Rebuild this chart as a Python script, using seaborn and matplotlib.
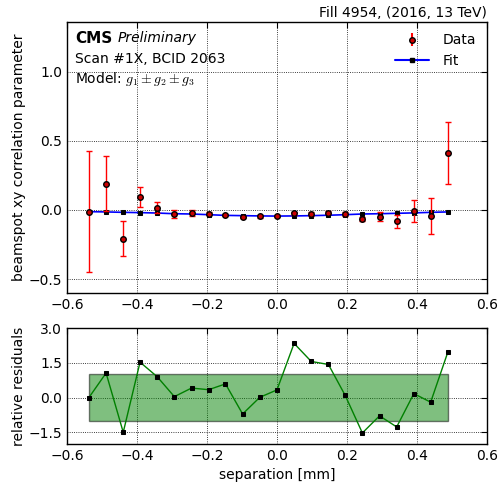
import seaborn as sns
import matplotlib.pyplot as plt
import pandas as pd
from matplotlib.lines import Line2D
from matplotlib.patches import Rectangle

# separation values of the scan points [mm]
separation = [-0.537, -0.488, -0.439, -0.391, -0.342, -0.293, -0.244, -0.195,
              -0.147, -0.098, -0.049, 0.000, 0.049, 0.098, 0.147, 0.195,
              0.244, 0.293, 0.342, 0.391, 0.439, 0.488]
corr_data = [-0.012, 0.19, -0.208, 0.092, 0.017, -0.027, -0.022, -0.027,
             -0.036, -0.051, -0.046, -0.043, -0.024, -0.029, -0.019, -0.029,
             -0.065, -0.048, -0.082, -0.007, -0.043, 0.415]
corr_err = [0.44, 0.20, 0.125, 0.073, 0.042, 0.03, 0.02, 0.012,
            0.01, 0.01, 0.01, 0.01, 0.012, 0.012, 0.012, 0.012,
            0.015, 0.03, 0.045, 0.082, 0.133, 0.225]
corr_fit = [-0.012, -0.014, -0.017, -0.019, -0.022, -0.027, -0.029, -0.034,
            -0.039, -0.041, -0.043, -0.044, -0.043, -0.041, -0.038, -0.034,
            -0.029, -0.027, -0.024, -0.021, -0.017, -0.014]
residuals = [0.0, 1.06, -1.5, 1.53, 0.9, 0.04, 0.41, 0.34, 0.59, -0.71, 0.01,
             0.33, 2.34, 1.56, 1.43, 0.09, -1.53, -0.79, -1.27, 0.17, -0.2, 1.96]

df = pd.DataFrame({"sep": separation, "data": corr_data, "err": corr_err,
                   "fit": corr_fit, "res": residuals})

sns.set_theme(style="white")
plt.rcParams["font.family"] = ["DejaVu Sans"]
plt.rcParams["mathtext.fontset"] = "cm"
plt.rcParams["xtick.direction"] = "in"
plt.rcParams["ytick.direction"] = "in"
plt.rcParams["text.color"] = "black"
plt.rcParams["axes.labelcolor"] = "black"

fig = plt.figure(figsize=(4.99, 4.84), dpi=100)
ax = fig.add_axes([0.134, 0.395, 0.842, 0.559])
ax2 = fig.add_axes([0.134, 0.083, 0.842, 0.239])

for a in (ax, ax2):
    a.grid(True, linestyle=":", color="black", linewidth=0.6)
    for s in a.spines.values():
        s.set_color("black")
        s.set_linewidth(1.0)
    a.tick_params(axis="both", which="both", top=True, right=True, length=4,
                  width=0.8, labelsize=10, color="black", labelcolor="black")
    a.set_xlim(-0.6, 0.6)
    a.set_xticks([-0.6, -0.4, -0.2, 0.0, 0.2, 0.4, 0.6])

# fit line
sns.lineplot(data=df, x="sep", y="fit", ax=ax, color="blue", lw=1.2,
             marker="s", markersize=3.5, markerfacecolor="black",
             markeredgecolor="black", zorder=2)
# data with errors
ax.errorbar(df["sep"], df["data"], yerr=df["err"], fmt="o", color="red",
            ecolor="red", elinewidth=1.0, capsize=2, markersize=4,
            markerfacecolor="#cc0000", markeredgecolor="black",
            markeredgewidth=1.0, zorder=3)
ax.set_ylim(-0.6, 1.36)
ax.set_yticks([-0.5, 0.0, 0.5, 1.0])
ax.set_xlabel("")
ax.set_ylabel("beamspot xy correlation parameter", fontsize=10, labelpad=2)

data_handle = ax.errorbar([], [], yerr=[], fmt="o", color="red", ecolor="red",
                          capsize=2, markersize=4, markerfacecolor="#cc0000",
                          markeredgecolor="black")
fit_handle = Line2D([], [], color="blue", marker="s", markersize=3,
                    markerfacecolor="black", markeredgecolor="black")
ax.legend([data_handle, fit_handle], ["Data", "Fit"], loc="upper right",
          frameon=False, numpoints=1, fontsize=10, handlelength=2.4,
          borderaxespad=0.4, labelcolor="black", handletextpad=1.0)

ax.text(0.02, 0.94, "CMS", transform=ax.transAxes, fontsize=11,
        fontweight="bold", va="center")
ax.text(0.12, 0.94, "Preliminary", transform=ax.transAxes, fontsize=10,
        fontstyle="italic", va="center")
ax.text(0.02, 0.866, "Scan #1X, BCID 2063", transform=ax.transAxes,
        fontsize=10, va="center")
ax.text(0.02, 0.792, r"Model: $g_1 \pm g_2 \pm g_3$", transform=ax.transAxes,
        fontsize=10, va="center")
ax.set_title("Fill 4954, (2016, 13 TeV)", loc="right", fontsize=10, pad=4)

# residuals
ax2.add_patch(Rectangle((separation[0], -1), separation[-1] - separation[0], 2,
                        facecolor="green", alpha=0.5, edgecolor="black",
                        linewidth=1.0, zorder=1))
sns.lineplot(data=df, x="sep", y="res", ax=ax2, color="green", lw=1.0,
             marker="s", markersize=3, markerfacecolor="black",
             markeredgecolor="black", zorder=3)
ax2.set_ylim(-2, 3)
ax2.set_yticks([-1.5, 0.0, 1.5, 3.0])
ax2.set_xlabel("separation [mm]", fontsize=10)
ax2.set_ylabel("relative residuals", fontsize=10, labelpad=2)

fig.savefig("out.png", dpi=100)
